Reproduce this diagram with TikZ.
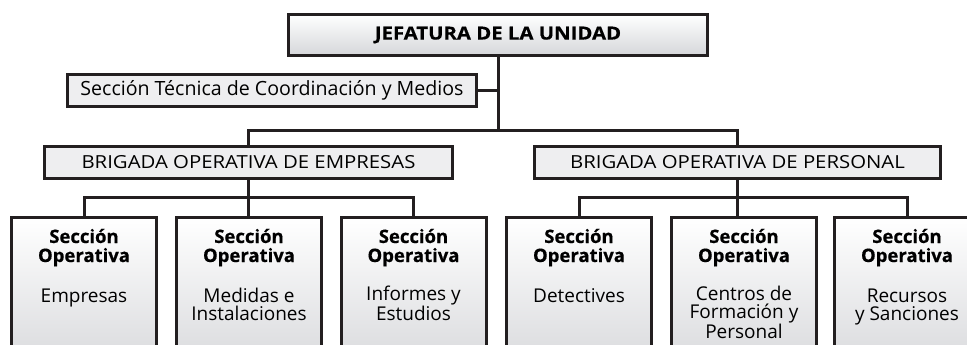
\documentclass[tikz,border=0pt]{standalone}
\usepackage{fontspec}
\setmainfont{Open Sans}[BoldFeatures={FakeBold=0.5}]
\newfontfamily\capsfont{Open Sans}[FakeStretch=1.13,BoldFeatures={FakeBold=0.5}]
\definecolor{ink}{HTML}{231F20}
\definecolor{pale}{HTML}{EEEEF0}
\definecolor{graybot}{HTML}{D6D7DA}
\begin{document}
\begin{tikzpicture}[x=1pt,y=-1pt,
  box/.style={draw=ink,line width=3pt,inner sep=0pt,rectangle},
  topbox/.style={box,top color=white,bottom color=graybot,minimum width=419pt,minimum height=41pt},
  flatbox/.style={box,fill=pale,minimum height=32pt},
  secbox/.style={box,top color=white,bottom color=graybot,minimum width=145pt,minimum height=160pt},
  conn/.style={draw=ink,line width=3pt},
  lbl/.style={inner sep=0pt,font=\fontsize{19.6}{20}\selectfont},
  caplbl/.style={inner sep=0pt,font=\capsfont\fontsize{18}{19}\selectfont},
  sect/.style={inner sep=0pt,align=center,anchor=base,font=\fontsize{18.5}{19}\selectfont},
  body/.style={inner sep=0pt,align=center,anchor=base,font=\fontsize{19}{18}\selectfont}]
\useasboundingbox (0,0) rectangle (967,345);
% boxes
\node[topbox] (top) at (498,35) {};
\node[caplbl,font=\capsfont\fontsize{18}{19}\selectfont\bfseries] (topt) at (top.center) {JEFATURA DE LA UNIDAD};
\node[flatbox,minimum width=409pt] (tec) at (272,90.5) {};
\node[lbl] (tect) at (tec.center) {Sección Técnica de Coordinación y Medios};
\node[flatbox,minimum width=408pt] (bL) at (248.5,162.5) {};
\node[caplbl] (bLt) at (bL.center) {BRIGADA OPERATIVA DE EMPRESAS};
\node[flatbox,minimum width=406pt] (bR) at (737.5,162.5) {};
\node[caplbl] (bRt) at (bR.center) {BRIGADA OPERATIVA DE PERSONAL};
\foreach \n/\x in {s1/84,s2/249,s3/413.5,s4/579,s5/744,s6/907}{
  \node[secbox] (\n) at (\x,297.5) {};
}
% connectors
\coordinate (j1) at (498,130);
\draw[conn] (top.south) -- (j1);
\draw[conn] (tec.east) -- (tec.east -| top.south);
\draw[conn] (bL.north) |- (j1) -| (bR.north);
\coordinate (jL) at (248.5,197);
\coordinate (jR) at (737.5,197);
\draw[conn] (bL.south) -- (bL.south |- s2.north);
\draw[conn] (s1.north) |- (jL) -| (s3.north);
\draw[conn] (bR.south) -- (bR.south |- s5.north);
\draw[conn] (s4.north) |- (jR) -| (s6.north);
% texts
\foreach \n/\t/\d in {s1/{Empresas}/86,s2/{Medidas e\\Instalaciones}/104,s3/{Informes y\\Estudios}/104,s4/{Detectives}/86,s5/{Centros de\\Formación y\\Personal}/122,s6/{Recursos\\y Sanciones}/104}{
  \node[sect] (\n h) at ([yshift=-46pt]\n.north) {\textbf{Sección}\\\textbf{Operativa}};
  \node[body] (\n b) at ([yshift=-\d pt]\n.north) {\t};
}
\end{tikzpicture}
\end{document}
